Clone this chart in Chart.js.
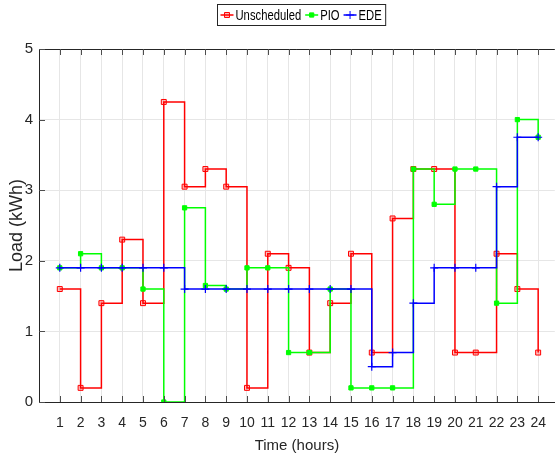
<!DOCTYPE html>
<html>
<head>
<meta charset="utf-8">
<script src="https://cdn.jsdelivr.net/npm/chart.js@4"></script>
<style>
  html, body { margin: 0; padding: 0; background: #fff; }
  #wrap { width: 560px; height: 464px; position: relative; }
</style>
</head>
<body>
<div id="wrap"><canvas id="loadChart"></canvas></div>
<script>
// hours of the day
var hours = [1, 2, 3, 4, 5, 6, 7, 8, 9, 10, 11, 12, 13, 14, 15, 16, 17, 18, 19, 20, 21, 22, 23, 24];
// load in kWh for each hour
var unscheduled = [1.6, 0.2, 1.4, 2.3, 1.4, 4.25, 3.05, 3.3, 3.05, 0.2, 2.1, 1.9, 0.7, 1.4, 2.1, 0.7, 2.6, 3.3, 3.3, 0.7, 0.7, 2.1, 1.6, 0.7];
var pio = [1.9, 2.1, 1.9, 1.9, 1.6, 0, 2.75, 1.65, 1.6, 1.9, 1.9, 0.7, 0.7, 1.6, 0.2, 0.2, 0.2, 3.3, 2.8, 3.3, 3.3, 1.4, 4.0, 3.75];
var ede = [1.9, 1.9, 1.9, 1.9, 1.9, 1.9, 1.6, 1.6, 1.6, 1.6, 1.6, 1.6, 1.6, 1.6, 1.6, 0.5, 0.7, 1.4, 1.9, 1.9, 1.9, 3.05, 3.75, 3.75];
var seriesNames = ['Unscheduled', 'PIO', 'EDE'];
var yTicks = [0, 1, 2, 3, 4, 5];

function toPoints(values) {
    return hours.map(function (h, i) { return { x: h, y: values[i] }; });
}

var font = "'Liberation Sans', Arial, sans-serif";
var squeeze = 0.75; // fake a narrow face for the legend text

// draws top border, inward ticks and the boxed legend (matlab look)
var matlabBits = {
    id: 'matlabBits',
    afterDraw: function (chart) {
        var ctx = chart.ctx, area = chart.chartArea;
        var xs = chart.scales.x, ys = chart.scales.y;
        ctx.save();
        ctx.strokeStyle = '#262626';
        ctx.lineWidth = 1;
        ctx.beginPath();
        ctx.moveTo(area.left, area.top + 0.5);
        ctx.lineTo(area.right, area.top + 0.5);
        ctx.stroke();

        ctx.strokeStyle = '#4d4d4d';
        ctx.beginPath();
        hours.forEach(function (h) {
            var px = Math.round(xs.getPixelForValue(h)) + 0.5;
            ctx.moveTo(px, area.bottom); ctx.lineTo(px, area.bottom - 6);
            ctx.moveTo(px, area.top); ctx.lineTo(px, area.top + 6);
        });
        yTicks.forEach(function (v) {
            var py = Math.round(ys.getPixelForValue(v)) + 0.5;
            ctx.moveTo(area.left, py); ctx.lineTo(area.left + 6, py);
        });
        ctx.stroke();

        // legend
        ctx.font = '15px ' + font;
        var sym = 13, gap = 2, sep = 4;
        var widths = seriesNames.map(function (n) { return sym + gap + ctx.measureText(n).width * squeeze; });
        var total = widths.reduce(function (a, b) { return a + b; }, 0) + sep * (widths.length - 1) + 7;
        var bx = Math.round(301 - total / 2) + 0.5, by = 4.5, bh = 21;
        ctx.fillStyle = '#fff';
        ctx.fillRect(bx, by, total, bh);
        ctx.strokeStyle = '#262626';
        ctx.strokeRect(bx, by, total, bh);
        var cx = bx + 3, cy = by + bh / 2;
        chart.data.datasets.forEach(function (ds, i) {
            ctx.strokeStyle = ds.borderColor;
            ctx.lineWidth = 1.5;
            ctx.beginPath();
            ctx.moveTo(cx, cy); ctx.lineTo(cx + sym, cy);
            ctx.stroke();
            ctx.fillStyle = ds.pointBackgroundColor;
            ctx.strokeStyle = ds.pointBorderColor;
            ctx.lineWidth = 1;
            ctx.beginPath();
            if (ds.pointStyle === 'cross') {
                ctx.moveTo(cx + sym / 2 - 4, cy); ctx.lineTo(cx + sym / 2 + 4, cy);
                ctx.moveTo(cx + sym / 2, cy - 4); ctx.lineTo(cx + sym / 2, cy + 4);
                ctx.stroke();
            } else {
                var s = ds.pointRadius * Math.SQRT1_2;
                ctx.rect(cx + sym / 2 - s, cy - s, 2 * s, 2 * s);
                ctx.fill(); ctx.stroke();
            }
            ctx.save();
            ctx.fillStyle = '#000';
            ctx.textBaseline = 'middle';
            ctx.translate(cx + sym + gap, cy + 1);
            ctx.scale(squeeze, 1);
            ctx.fillText(seriesNames[i], 0, 0);
            ctx.restore();
            cx += widths[i] + sep;
        });
        ctx.restore();
    }
};

var ctx = document.getElementById('loadChart').getContext('2d');

var loadChart = new Chart(ctx, {
    type: 'line',
    data: {
        datasets: [
            {
                label: seriesNames[0],
                data: toPoints(unscheduled),
                stepped: true,
                borderColor: '#ff0000',
                borderWidth: 1.5,
                pointStyle: 'rect',
                pointRadius: 3.5,
                pointBorderWidth: 1,
                pointBorderColor: '#ff0000',
                pointBackgroundColor: 'rgba(255,0,0,0.25)',
                fill: false,
                order: 2
            },
            {
                label: seriesNames[1],
                data: toPoints(pio),
                stepped: true,
                borderColor: '#00ff00',
                borderWidth: 1.5,
                pointStyle: 'rect',
                pointRadius: 3,
                pointBorderWidth: 1,
                pointBorderColor: '#00ff00',
                pointBackgroundColor: '#00ff00',
                fill: false,
                order: 1
            },
            {
                label: seriesNames[2],
                data: toPoints(ede),
                stepped: true,
                borderColor: '#0000ff',
                borderWidth: 1.5,
                pointStyle: 'cross',
                pointRadius: 4,
                pointBorderWidth: 1.2,
                pointBorderColor: '#0000ff',
                pointBackgroundColor: '#0000ff',
                fill: false,
                order: 0
            }
        ]
    },
    options: {
        responsive: true,
        maintainAspectRatio: false,
        animation: false,
        layout: { padding: { top: 49, left: 0, right: 0, bottom: 0 } },
        plugins: {
            legend: { display: false },
            tooltip: { enabled: false }
        },
        scales: {
            x: {
                type: 'linear',
                min: 0,
                max: 24.8,
                afterBuildTicks: function (scale) {
                    scale.ticks = hours.map(function (h) { return { value: h }; });
                },
                afterFit: function (scale) { scale.height = 62; },
                grid: { color: '#e6e6e6', lineWidth: 1, drawTicks: false },
                border: { color: '#262626', width: 1 },
                ticks: {
                    padding: 13,
                    color: '#262626',
                    font: { family: font, size: 14 },
                    maxRotation: 0,
                    autoSkip: false
                },
                title: {
                    display: true,
                    text: 'Time (hours)',
                    color: '#262626',
                    font: { family: font, size: 15 },
                    padding: { top: 0, bottom: 9 }
                }
            },
            y: {
                min: 0,
                max: 5,
                afterBuildTicks: function (scale) {
                    scale.ticks = yTicks.map(function (v) { return { value: v }; });
                },
                afterFit: function (scale) { scale.width = 39; },
                grid: { color: '#e6e6e6', lineWidth: 1, drawTicks: false },
                border: { color: '#262626', width: 1 },
                ticks: {
                    padding: 6,
                    color: '#262626',
                    font: { family: font, size: 15 }
                },
                title: {
                    display: true,
                    text: 'Load (kWh)',
                    color: '#262626',
                    font: { family: font, size: 18 },
                    padding: { top: 6, bottom: 0 }
                }
            }
        }
    },
    plugins: [matlabBits]
});
</script>
</body>
</html>
